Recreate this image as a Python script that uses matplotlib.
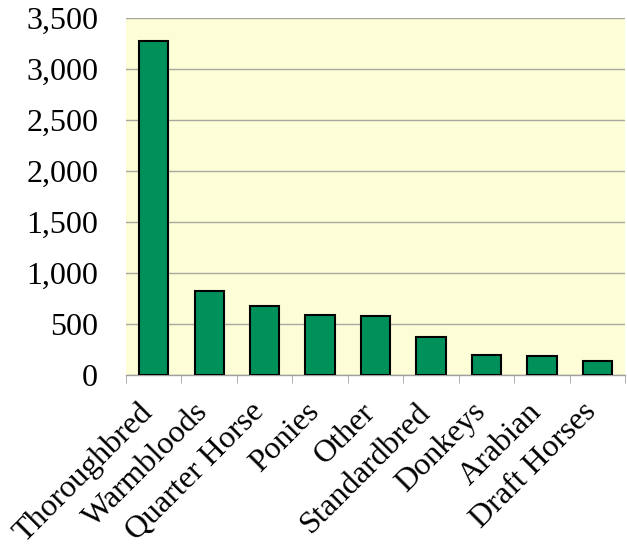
import matplotlib.pyplot as plt
import matplotlib.transforms as mtransforms
from matplotlib.ticker import FuncFormatter

breeds = ["Thoroughbred", "Warmbloods", "Quarter Horse", "Ponies", "Other",
          "Standardbred", "Donkeys", "Arabian", "Draft Horses"]
counts = [3280, 830, 675, 590, 578, 375, 195, 185, 135]

plt.rcParams['font.family'] = ['Liberation Serif', 'DejaVu Serif']

fig = plt.figure(figsize=(6.27, 5.47), dpi=100)
ax = fig.add_axes([0.201, 0.314, 0.796, 0.653])
ax.set_facecolor('#fdfdd8')

x = range(len(breeds))
ax.bar(x, counts, width=0.53, color='#00915a', edgecolor='black', linewidth=1.5, zorder=3)

ax.set_ylim(0, 3500)
ax.set_xlim(-0.5, len(breeds) - 0.5)
ax.set_yticks(range(0, 3501, 500))
ax.yaxis.set_major_formatter(FuncFormatter(lambda v, p: f"{int(v):,}"))
ax.grid(axis='y', color='#a8a8a0', linewidth=1.0, zorder=1)

for side in ('top', 'right', 'left'):
    ax.spines[side].set_visible(False)
ax.spines['bottom'].set_color('#a0a0a0')
ax.spines['bottom'].set_linewidth(1.0)

ax.tick_params(axis='y', length=0, pad=20, labelsize=23)
# category ticks sit between bars
ax.set_xticks([i - 0.5 for i in range(len(breeds) + 1)], minor=True)
ax.tick_params(axis='x', which='minor', length=6, color='#a0a0a0')
ax.tick_params(axis='x', which='major', length=0, labelsize=23, pad=16)
ax.set_xticks(list(x))
ax.set_xticklabels(breeds, rotation=45, ha='right', va='top', rotation_mode='anchor')
shift = mtransforms.ScaledTranslation(-11 / 72, 0, fig.dpi_scale_trans)
for lbl in ax.get_xticklabels():
    lbl.set_transform(lbl.get_transform() + shift)

fig.savefig('out.png', dpi=100)
